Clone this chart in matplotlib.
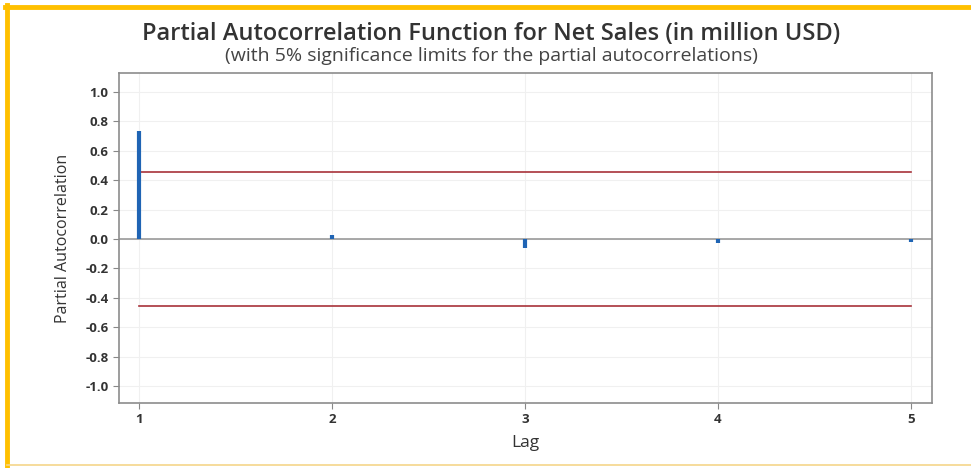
import matplotlib.pyplot as plt
from matplotlib.lines import Line2D

# partial autocorrelations
lags = [1, 2, 3, 4, 5]
pacf = [0.735, 0.025, -0.06, -0.025, -0.02]
limit = 0.457  # 5% significance limit

yticks = [1.0, 0.8, 0.6, 0.4, 0.2, 0.0, -0.2, -0.4, -0.6, -0.8, -1.0]

plt.rcParams['font.family'] = ['Open Sans', 'DejaVu Sans']

fig = plt.figure(figsize=(9.71, 4.68), dpi=100)
ax = fig.add_axes([119/971, 1 - 403/468, (932 - 119)/971, (403 - 73)/468])

ax.set_xlim(0.896, 5.109)
ax.set_ylim(-1.115, 1.129)

ax.grid(True, color='#f0f0f0', linewidth=0.8)
ax.set_axisbelow(True)
ax.axhline(0, color='#9a9a9a', linewidth=1.2, zorder=1)

ax.plot([lags[0], lags[-1]], [limit, limit], color='#a8323a', linewidth=1.2, zorder=2)
ax.plot([lags[0], lags[-1]], [-limit, -limit], color='#a8323a', linewidth=1.2, zorder=2)

ax.vlines(lags, 0, pacf, color='#1f64b4', linewidth=3, zorder=3)

ax.set_xticks(lags)
ax.set_yticks(yticks)
ax.set_yticklabels(['%.1f' % v for v in yticks])
ax.tick_params(labelsize=9.5, length=4, color='#888888', labelcolor='#333333')
for lbl in ax.get_xticklabels() + ax.get_yticklabels():
    lbl.set_fontweight('bold')

for s in ax.spines.values():
    s.set_color('#8c8c8c')
    s.set_linewidth(1.2)

ax.set_xlabel('Lag', fontsize=12.5, color='#333333', labelpad=6)
ax.set_ylabel('Partial Autocorrelation', fontsize=11.5, color='#333333', labelpad=10)

fig.text(0.506, 1 - 34/468, 'Partial Autocorrelation Function for Net Sales (in million USD)',
         ha='center', va='center', fontsize=17, fontweight='semibold', color='#333333')
fig.text(0.506, 1 - 56/468, '(with 5% significance limits for the partial autocorrelations)',
         ha='center', va='center', fontsize=14, color='#444444')

# yellow frame
fig.add_artist(Line2D([5/971, 1], [1 - 7/468, 1 - 7/468], transform=fig.transFigure,
                      color='#ffc000', linewidth=3.5))
fig.add_artist(Line2D([7/971, 7/971], [1 - 5/468, 2/468], transform=fig.transFigure,
                      color='#ffc000', linewidth=3.5))
fig.add_artist(Line2D([7/971, 1], [3/468, 3/468], transform=fig.transFigure,
                      color='#f5d68a', linewidth=1.2))

fig.savefig('out.png', dpi=100)
